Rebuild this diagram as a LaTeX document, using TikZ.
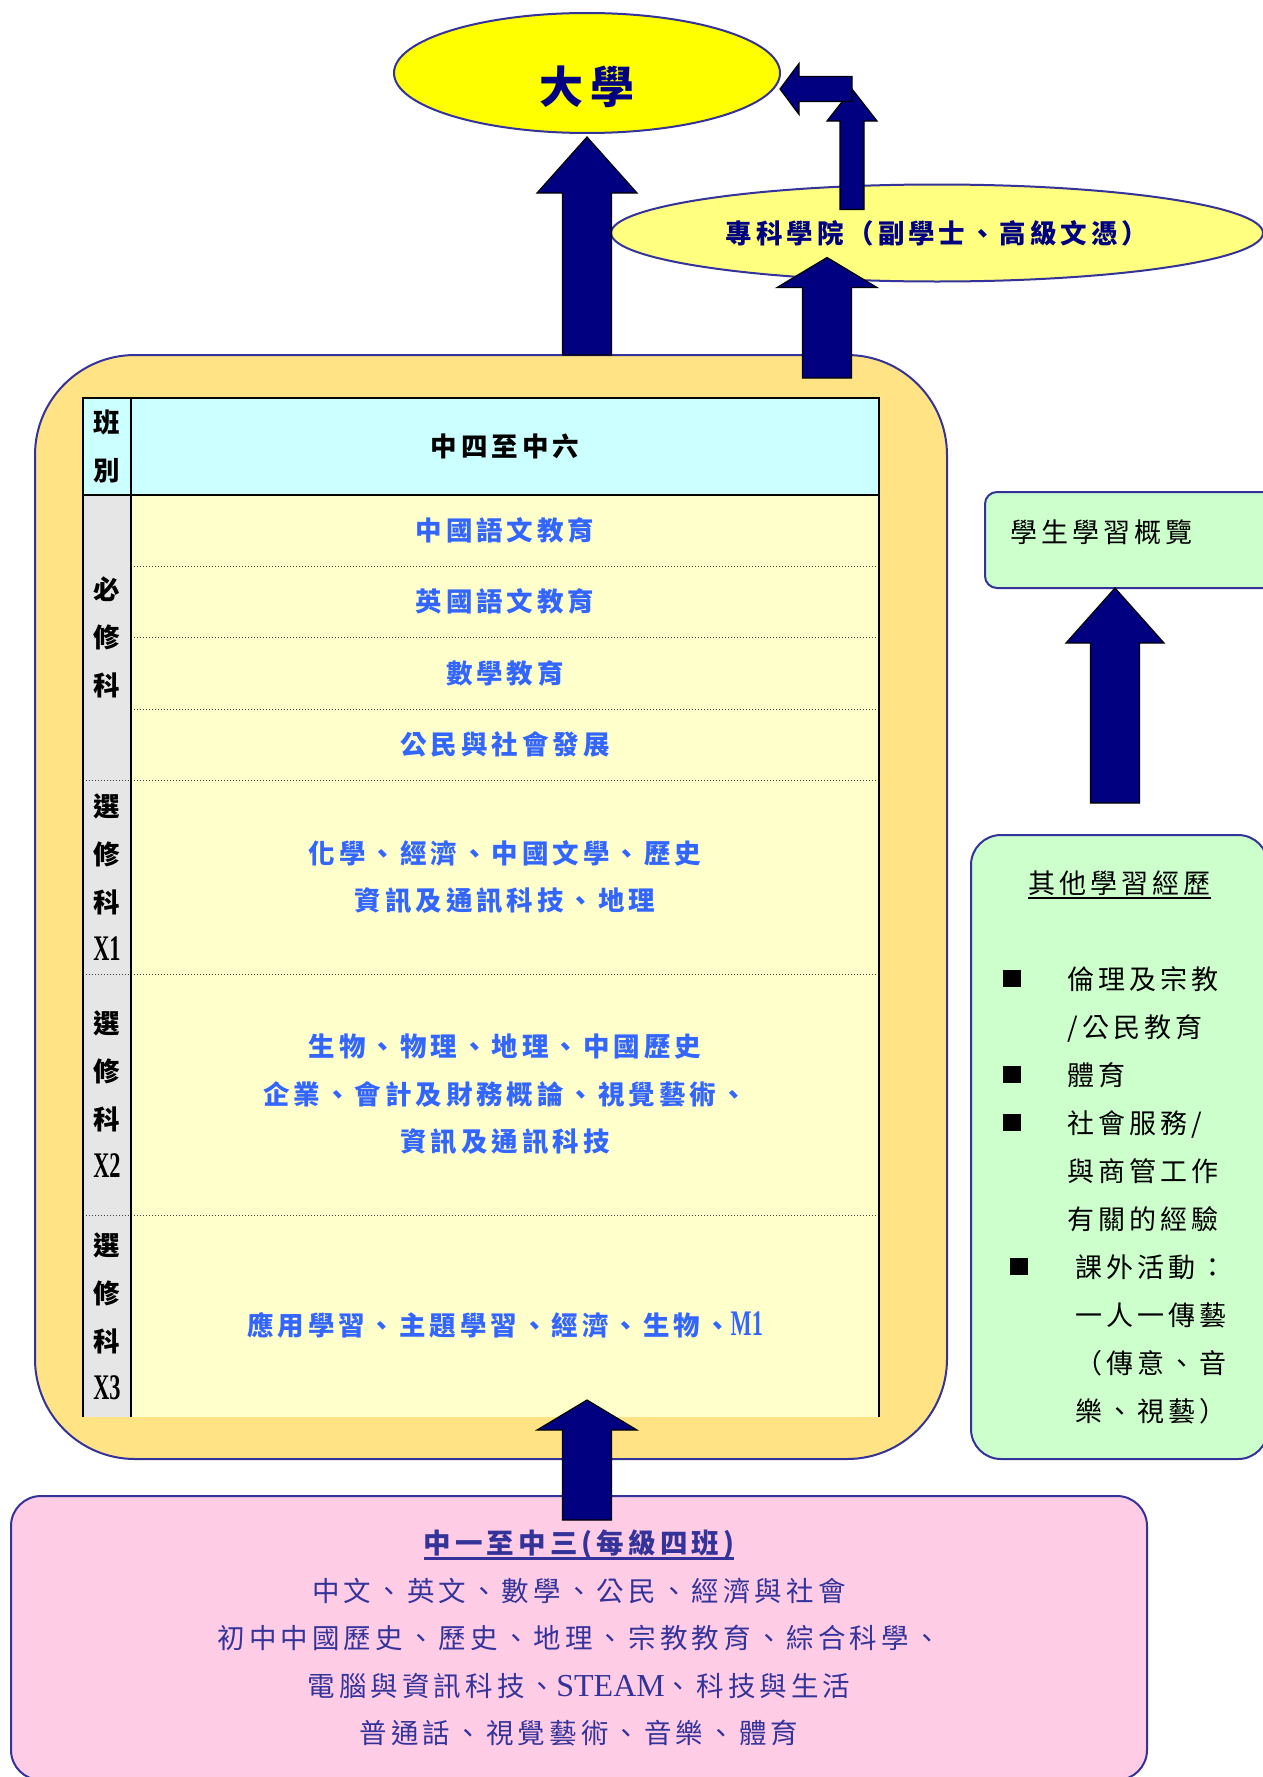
\documentclass[tikz,border=0pt]{standalone}
\usepackage{fontspec}
\usepackage{graphicx}
\setmainfont{Noto Sans CJK TC}[LetterSpace=15]
\newfontfamily\romanfont{Liberation Serif}
\usetikzlibrary{shapes.geometric,positioning,calc}

\definecolor{arrownavy}{HTML}{000080}
\definecolor{edgeblue}{HTML}{333399}
\definecolor{uniyellow}{HTML}{FFFF00}
\definecolor{paleyellow}{HTML}{FFFF80}
\definecolor{boxorange}{HTML}{FFE385}
\definecolor{cellyellow}{HTML}{FFFFCC}
\definecolor{headcyan}{HTML}{CCFFFF}
\definecolor{labelgray}{HTML}{E6E6E6}
\definecolor{subjblue}{HTML}{3366FF}
\definecolor{mint}{HTML}{CCFFCC}
\definecolor{pinkfill}{HTML}{FFCCE6}

\newcommand\ulined[2][1.8pt]{\setbox0\hbox{#2}\rlap{\rule[-6pt]{\wd0}{#1}}\box0}
\newcommand\sqbullet{\rule[2pt]{18pt}{17pt}}
\newcommand\narrowlatin[1]{{\romanfont\fontsize{36}{48}\selectfont\scalebox{0.62}[1]{#1}}}

\begin{document}
\begin{tikzpicture}[x=1pt,y=-1pt,node distance=0pt,
    every node/.style={inner sep=0pt,outer sep=0pt},
    block arrow/.style={draw=black,line width=1.2pt,fill=arrownavy,line join=miter},
    block up/.style n args={3}{to path={let \p1=(\tikztostart), \p2=(\tikztotarget) in
      (\x2-#3,\y1) -- (\x2-#3,\y2-#1) -- (\x2-#2,\y2-#1) -- (\x2,\y2)
      -- (\x2+#2,\y2-#1) -- (\x2+#3,\y2-#1) -- (\x2+#3,\y1) -- cycle}},
    block left/.style n args={3}{to path={let \p1=(\tikztostart), \p2=(\tikztotarget) in
      (\x1,\y2+#3) -- (\x2+#1,\y2+#3) -- (\x2+#1,\y2+#2) -- (\x2,\y2)
      -- (\x2+#1,\y2-#2) -- (\x2+#1,\y2-#3) -- (\x1,\y2-#3) -- cycle}},
    oval node/.style={ellipse,draw=edgeblue,line width=2pt,text=arrownavy},
    round box/.style={rectangle,draw=edgeblue,line width=2pt},
    head cell/.style={rectangle,fill=headcyan,minimum height=97pt,font=\fontsize{26.5}{48}\selectfont\bfseries},
    side cell/.style={rectangle,fill=labelgray,minimum width=48pt,align=center,font=\fontsize{26.5}{48}\selectfont\bfseries},
    subject cell/.style={rectangle,fill=cellyellow,minimum width=748pt,align=center,text=subjblue,font=\fontsize{26.5}{47.5}\selectfont\bfseries},
    table rule/.style={line width=2pt},
    row rule/.style={line width=1pt,dotted,black!75}]

  \useasboundingbox (0,0) rectangle (1263,1777);

  % junior forms
  \node[round box,rounded corners=30pt,fill=pinkfill,anchor=north,minimum width=1136pt,minimum height=284pt,
        text=edgeblue,align=center,font=\fontsize{27.5}{47.5}\selectfont] (junior) at (579,1496)
    {{\bfseries\ulined[2.5pt]{中一至中三(每級四班)}}\\
     中文、英文、數學、公民、經濟與社會\\
     初中中國歷史、歷史、地理、宗教教育、綜合科學、\\
     電腦與資訊科技、{\romanfont\fontsize{32}{47.5}\selectfont STEAM}、科技與生活\\
     普通話、視覺藝術、音樂、體育};

  % senior forms
  \node[round box,rounded corners=100pt,fill=boxorange,anchor=north west,minimum width=912pt,minimum height=1104pt] (senior) at (35,355) {};

  \node[side cell,fill=headcyan,anchor=north west,minimum height=97pt] (hdrlabel) at (83,398) {班\\別};
  \node[head cell,minimum width=748pt,right=of hdrlabel] (hdr) {中四至中六};
  \node[side cell,minimum height=285pt,below=of hdrlabel] (corelabel) {必\\修\\科};
  \node[subject cell,minimum height=71pt,below=of hdr] (core1) {中國語文教育};
  \node[subject cell,minimum height=71pt,below=of core1] (core2) {英國語文教育};
  \node[subject cell,minimum height=72pt,below=of core2] (core3) {數學教育};
  \node[subject cell,minimum height=71pt,below=of core3] (core4) {公民與社會發展};
  \node[side cell,minimum height=194pt,below=of corelabel] (xonelabel) {選\\修\\科\\\narrowlatin{X1}};
  \node[subject cell,minimum height=194pt,below=of core4] (xone) {化學、經濟、中國文學、歷史\\資訊及通訊科技、地理};
  \node[side cell,minimum height=241pt,below=of xonelabel] (xtwolabel) {選\\修\\科\\\narrowlatin{X2}};
  \node[subject cell,minimum height=241pt,below=of xone] (xtwo) {生物、物理、地理、中國歷史\\企業、會計及財務概論、視覺藝術、\\資訊及通訊科技};
  \node[side cell,minimum height=202pt,below=of xtwolabel] (xthreelabel) {選\\修\\科\\\narrowlatin{X3}};
  \node[subject cell,minimum height=202pt,text height=45pt,text depth=7pt,below=of xtwo] (xthree) {應用學習、主題學習、經濟、生物、\narrowlatin{M1}};

  \draw[row rule] (core1.south west) -- (core1.south east);
  \draw[row rule] (core2.south west) -- (core2.south east);
  \draw[row rule] (core3.south west) -- (core3.south east);
  \draw[row rule] (corelabel.south west) -- (core4.south east);
  \draw[row rule] (xonelabel.south west) -- (xone.south east);
  \draw[row rule] (xtwolabel.south west) -- (xtwo.south east);
  \draw[table rule] (xthreelabel.south west) |- (hdr.north east) -- (xthree.south east);
  \draw[table rule] (hdrlabel.south west) -- (hdr.south east);
  \draw[table rule] (hdrlabel.north east) -- (xthreelabel.south east);

  % right column
  \node[round box,rounded corners=12pt,fill=mint,anchor=north west,minimum width=290pt,minimum height=96pt,
        text width=240pt,inner xsep=25pt,align=left,text height=20pt,text depth=15pt,
        font=\fontsize{27}{48}\selectfont] (profile) at (985,492) {學生學習概覽};
  \node[round box,rounded corners=30pt,fill=mint,anchor=north west,minimum width=297pt,minimum height=624pt,
        text width=234pt,inner xsep=31.5pt,align=left,font=\fontsize{27}{48}\selectfont] (ole) at (971,835)
    {\makebox[234pt]{\ulined{其他學習經歷}}\\[48pt]
     \sqbullet\hspace{47pt}倫理及宗教\\
     \hspace*{65pt}/公民教育\\
     \sqbullet\hspace{47pt}體育\\
     \sqbullet\hspace{47pt}社會服務/\\
     \hspace*{65pt}與商管工作\\
     \hspace*{65pt}有關的經驗\\
     \hspace*{7pt}\sqbullet\hspace{48pt}課外活動：\\
     \hspace*{73pt}一人一傳藝\\
     \hspace*{73pt}（傳意、音\\
     \hspace*{73pt}樂、視藝）};

  % top
  \node[oval node,fill=paleyellow,minimum width=652pt,minimum height=97pt,
        font=\fontsize{26.5}{30}\selectfont\bfseries] (college) at (937,233) {專科學院（副學士、高級文憑）};
  \node[oval node,fill=uniyellow,minimum width=386pt,minimum height=120pt,text height=70pt,text depth=9pt,
        font=\fontsize{44}{50}\selectfont\bfseries] (uni) at (587,73) {大學};

  \coordinate (bend) at (852,89);
  \coordinate (profilefoot) at (1115,803);

  % arrows
  \draw[block arrow,block up={56pt}{50pt}{24.5pt}] (senior.north) to ([yshift=-4pt]uni.south);
  \draw[block arrow,block up={30pt}{50pt}{24.5pt}] ([yshift=-23pt]senior.north) to ([xshift=-110pt,yshift=24pt]college.south);
  \draw[block arrow,block up={32pt}{25pt}{12pt}] ([yshift=-25pt]college.north) to (bend);
  \draw[block arrow,block left={19pt}{25.5pt}{12.5pt}] (bend) to ([yshift=-16pt]uni.east);
  \draw[block arrow,block up={30pt}{50pt}{24.5pt}] ([yshift=-24pt]junior.north) to ([xshift=96pt,yshift=59pt]senior.south);
  \draw[block arrow,block up={55pt}{49pt}{24.5pt}] (profilefoot) to ([xshift=-15pt]profile.south);
\end{tikzpicture}
\end{document}
